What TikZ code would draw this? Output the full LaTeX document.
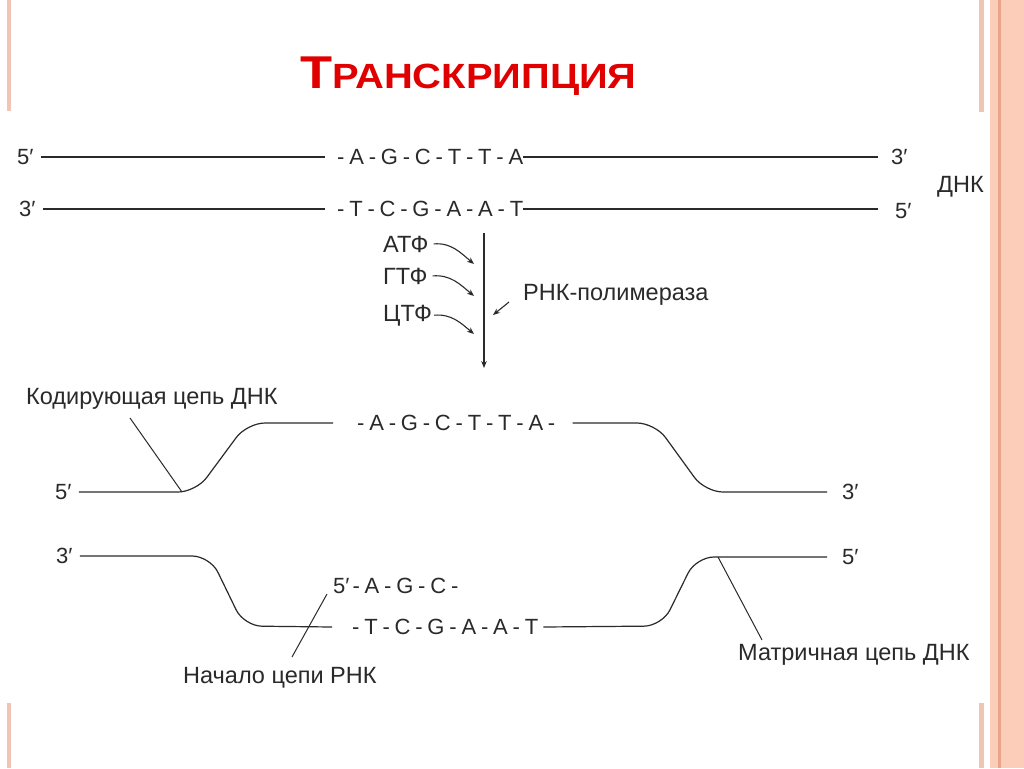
\documentclass[tikz,border=0pt]{standalone}
\usepackage{fontspec}
\setmainfont{Liberation Sans}
\usetikzlibrary{arrows.meta}
\definecolor{ink}{HTML}{2A2A2A}
\definecolor{titlered}{HTML}{E00000}
\definecolor{rulec}{HTML}{F2C4B4}
\definecolor{band}{HTML}{FCCDB8}
\definecolor{bandline}{HTML}{E9A58A}
\newcommand\hy{\hspace{4.8pt}-\hspace{4.8pt}}
\newcommand\gp{\hspace{4.8pt}}
\begin{document}
\begin{tikzpicture}[x=1pt,y=-1pt,
  lab/.style={font=\fontsize{23.5}{27}\selectfont, text=ink, inner sep=0pt},
  seq/.style={font=\fontsize{22}{26}\selectfont, text=ink, inner sep=0pt, anchor=west},
  dna/.style={draw=ink, line width=1.1pt},
  strand/.style={draw=ink, line width=1.2pt, rounded corners=18pt},
  ptr/.style={draw=ink, line width=1pt},
  arr/.style={draw=ink, line width=1.1pt, -{Stealth[length=7pt,width=5.5pt]}}]

\fill[white] (0,0) rectangle (1024,768);
\useasboundingbox (0,0) rectangle (1024,768);

% slide decoration
\fill[rulec] (7,0) rectangle (11,111);
\fill[rulec] (7,703) rectangle (11,768);
\fill[rulec] (979,0) rectangle (984,112);
\fill[rulec] (979,703) rectangle (984,768);
\fill[band] (990,0) rectangle (1024,768);
\fill[bandline] (998,0) rectangle (1000.5,768);

% title
\node[anchor=base west, text=titlered, inner sep=0pt, font=\bfseries] (title) at (300,88)
  {\scalebox{1.14}[1]{\fontsize{46}{46}\selectfont Т\fontsize{35}{35}\selectfont РАНСКРИПЦИЯ}};

% top DNA double strand
\node[seq] (p1) at (17,157) {5′};
\node[seq] (s1) at (337,157) {-\gp A\hy G\hy C\hy T\hy T\hy A};
\node[seq] (q1) at (891,157) {3′};
\draw[dna] ([xshift=7pt]p1.east) -- ([xshift=-12pt]s1.west);
\draw[dna] (s1.east) -- ([xshift=-13pt]q1.west);

\node[seq] (p2) at (19,209) {3′};
\node[seq] (s2) at (337,209) {-\gp T\hy C\hy G\hy A\hy A\hy T};
\node[seq] (q2) at (895,211) {5′};
\draw[dna] ([xshift=7pt]p2.east) -- ([xshift=-12pt]s2.west);
\draw[dna] (s2.east) -- ([xshift=-17pt]q2.west |- s2.east);

\node[lab, anchor=base west] (dnk) at (937,192) {ДНК};

% polymerase arrow
\coordinate (vtop) at (484,233);
\coordinate (vbot) at (484,368);
\draw[arr] (vtop) -- (vbot);

\node[lab, anchor=base west] (atf) at (383,252) {АТФ};
\node[lab, anchor=base west] (gtf) at (383,284) {ГТФ};
\node[lab, anchor=base west] (ctf) at (383,321) {ЦТФ};
\coordinate (e1) at (474,264);
\coordinate (e2) at (474,296);
\coordinate (e3) at (474,334);
\draw[arr] ([xshift=5pt]atf.east) to[out=5,in=140] (e1);
\draw[arr] ([xshift=5pt]gtf.east) to[out=5,in=140] (e2);
\draw[arr] ([xshift=2pt]ctf.east) to[out=5,in=140] (e3);

\node[lab, anchor=base west] (pol) at (523,300) {РНК-полимераза};
\coordinate (pa) at (509,302);
\coordinate (pb) at (493,315);
\draw[arr] (pa) -- (pb);

% coding strand
\node[lab, anchor=base west] (kod) at (26,404) {Кодирующая цепь ДНК};
\node[seq] (c5) at (55,492) {5′};
\node[seq] (cs) at (357,423) {-\gp A\hy G\hy C\hy T\hy T\hy A\gp -};
\node[seq] (c3) at (842,492) {3′};
\draw[strand] ([xshift=7pt]c5.east) -- (196,492) -- (247,423) -- ([xshift=-24pt]cs.west);
\draw[strand] ([xshift=17pt]cs.east) -- (655,423) -- (705,492) -- ([xshift=-15pt]c3.west);
\coordinate (k1) at (130,418);
\coordinate (k2) at (182,492);
\draw[ptr] (k1) -- (k2);

% template strand
\node[seq] (t3) at (56,556) {3′};
\node[seq] (ts) at (352,627) {-\gp T\hy C\hy G\hy A\hy A\hy T};
\node[seq] (t5) at (842,557) {5′};
\draw[strand] ([xshift=7pt]t3.east) -- (210,556) -- (244,626) -- ([xshift=-20pt]ts.west);
\draw[strand] ([xshift=5pt]ts.east) -- (662,626) -- (696,557) -- ([xshift=-15pt]t5.west);

% RNA
\node[seq] (rna) at (333,586) {5′\hspace{3pt}-\gp A\hy G\hy C\gp -};
\node[lab, anchor=base west] (nach) at (183,683) {Начало цепи РНК};
\coordinate (n1) at (327,594);
\coordinate (n2) at (292,657);
\draw[ptr] (n1) -- (n2);

\node[lab, anchor=base west] (matr) at (738,660) {Матричная цепь ДНК};
\coordinate (m1) at (718,557);
\coordinate (m2) at (762,640);
\draw[ptr] (m1) -- (m2);
\end{tikzpicture}
\end{document}
